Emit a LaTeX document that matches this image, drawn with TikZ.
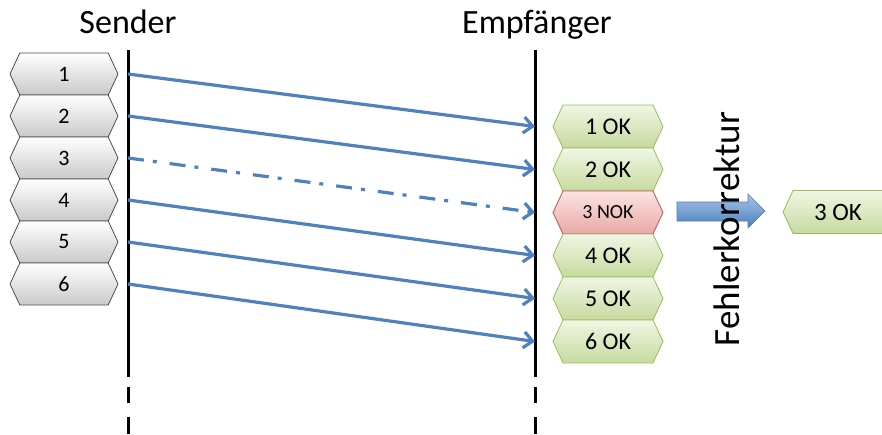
\documentclass[tikz,border=0pt]{standalone}
\usepackage{fontspec}
\setmainfont{Carlito}
\usetikzlibrary{shapes.symbols,arrows.meta}
\definecolor{lineblue}{HTML}{4F81BD}
\definecolor{okdraw}{HTML}{9BBB59}
\definecolor{oktop}{HTML}{F0F6E4}
\definecolor{okbot}{HTML}{C6DA9E}
\definecolor{nokdraw}{HTML}{C0504D}
\definecolor{noktop}{HTML}{FBE3E2}
\definecolor{nokbot}{HTML}{E8A9A7}
\definecolor{arrtop}{HTML}{A7C4E8}
\definecolor{arrbot}{HTML}{4A7EBB}
\tikzset{
  hexbox/.style={signal, signal to=west and east, signal pointer angle=130,
    inner sep=0pt, text=black, line width=0.8pt},
  sbox/.style={hexbox, draw=gray!60!black, top color=white, bottom color=gray!42,
    minimum width=108pt, minimum height=42pt, font=\fontsize{22}{22}\selectfont},
  rbox/.style={hexbox, draw=okdraw, top color=oktop, bottom color=okbot,
    minimum width=110pt, minimum height=43pt, font=\fontsize{24}{24}\selectfont},
  nbox/.style={hexbox, draw=nokdraw, top color=noktop, bottom color=nokbot,
    minimum width=110pt, minimum height=43pt, font=\fontsize{20}{20}\selectfont},
  lifeline/.style={line width=3pt, black, dash pattern=on 327pt off 10pt on 16pt off 14pt on 40pt},
  msg/.style={line width=3.2pt, lineblue, -{Straight Barb[length=9pt,width=16pt]}},
  lost/.style={msg, dash pattern=on 16pt off 9pt on 4pt off 13pt},
  heading/.style={anchor=base, inner sep=0pt, font=\fontsize{34}{34}\selectfont}
}
\begin{document}
\begin{tikzpicture}[x=1pt,y=-1pt]
\useasboundingbox (0,0) rectangle (882,434);
% headings
\node[heading] (hs) at (128,33) {Sender};
\node[heading] (he) at (537,33) {Empfänger};
% lifelines
\coordinate (sT) at (128,50);
\coordinate (sB) at (128,434);
\coordinate (eT) at (535,50);
\coordinate (eB) at (535,434);
\draw[lifeline] (sT) -- (sB);
\draw[lifeline] (eT) -- (eB);
% sender packets
\foreach \i/\y in {1/74,2/116,3/158,4/200,5/242,6/284}
  \node[sbox] (s\i) at (64,\y) {\i};
% receiver packets
\node[rbox] (r1) at (608,126.5) {1 OK};
\node[rbox] (r2) at (608,169.5) {2 OK};
\node[nbox] (r3) at (608,212.5) {3 NOK};
\node[rbox] (r4) at (608,255.5) {4 OK};
\node[rbox] (r5) at (608,298.5) {5 OK};
\node[rbox] (r6) at (608,341.5) {6 OK};
% messages
\draw[msg] (s1.center -| sT) -- (r1.center -| eT);
\draw[msg] (s2.center -| sT) -- (r2.center -| eT);
\draw[lost] (s3.center -| sT) -- (r3.center -| eT);
\draw[msg] (s4.center -| sT) -- (r4.center -| eT);
\draw[msg] (s5.center -| sT) -- (r5.center -| eT);
\draw[msg] (s6.center -| sT) -- (r6.center -| eT);
% correction arrow
\shade[top color=arrtop, bottom color=arrbot, draw=arrbot, line width=0.6pt]
  (677,202) -- (748,202) -- (748,194) -- (765,211) -- (748,228) -- (748,221) -- (677,221) -- cycle;
\node[rotate=90, anchor=south, inner sep=0pt, font=\fontsize{37}{37}\selectfont] (fk) at (740,229) {Fehlerkorrektur};
% corrected packet
\node[rbox, font=\fontsize{25}{25}\selectfont] (c3) at (838,212) {3 OK};
\end{tikzpicture}
\end{document}
